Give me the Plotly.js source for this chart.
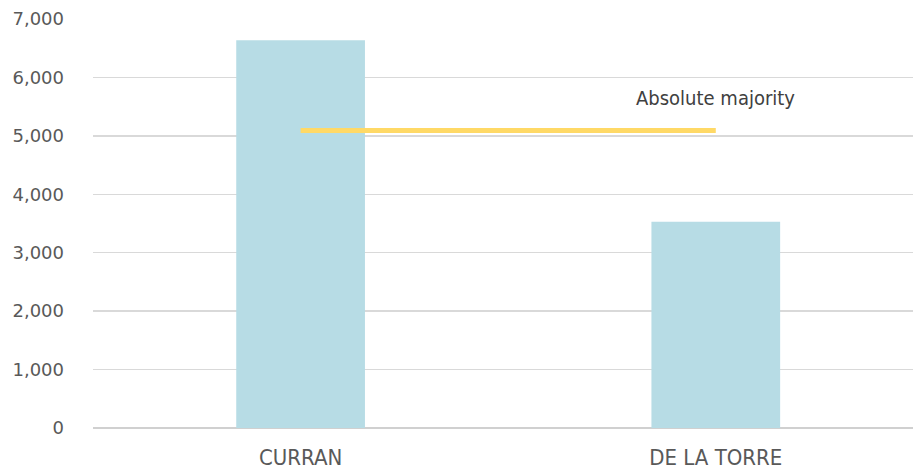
<!DOCTYPE html>
<html><head><meta charset="utf-8">
<script src="https://cdn.plot.ly/plotly-3.0.1.min.js"></script>
<style>html,body{margin:0;padding:0;background:#fff}#chart{width:913px;height:475px}</style>
</head><body><div id="chart"></div>
<script>
const categories = ["CURRAN", "DE LA TORRE"];
const votes = [6635, 3530];
const majorityValue = 5090;
const majorityLabel = "Absolute majority";
const yTickVals = [0, 1000, 2000, 3000, 4000, 5000, 6000, 7000];
const yTickText = ["0", "1,000", "2,000", "3,000", "4,000", "5,000", "6,000", "7,000"];

const bars = {
  type: "bar", x: categories, y: votes, width: 0.31,
  marker: {color: "#B7DCE5"}, hoverinfo: "skip", showlegend: false
};
const majority = {
  type: "scatter", mode: "lines", x: categories, y: [majorityValue, majorityValue],
  line: {color: "#FFD966", width: 5}, hoverinfo: "skip", showlegend: false
};
const layout = {
  width: 913, height: 475,
  margin: {l: 93, r: 0, t: 19, b: 47},
  paper_bgcolor: "#fff", plot_bgcolor: "#fff",
  font: {family: "DejaVu Sans", color: "#595959"},
  xaxis: {
    type: "category", range: [-0.5, 1.475], showgrid: false, zeroline: false,
    showline: false, ticks: "", ticklabelstandoff: 14,
    tickfont: {family: "Liberation Sans Narrow, DejaVu Sans Condensed", size: 22, color: "#595959"}
  },
  yaxis: {
    range: [0, 7000], tickvals: yTickVals, ticktext: yTickText,
    showgrid: true, gridcolor: "#D9D9D9", gridwidth: 1.3, zeroline: true, zerolinecolor: "#D0D0D0", zerolinewidth: 2,
    ticks: "", ticklabelstandoff: 28, tickfont: {family: "DejaVu Sans", size: 18, color: "#595959"}
  },
  annotations: [{
    x: categories[1], y: majorityValue, xref: "x", yref: "y", text: majorityLabel,
    showarrow: false, yshift: 33, font: {family: "Liberation Sans Narrow, DejaVu Sans Condensed", size: 20, color: "#404040"}
  }]
};
Plotly.newPlot("chart", [bars, majority], layout, {displayModeBar: false, staticPlot: true});
</script></body></html>
